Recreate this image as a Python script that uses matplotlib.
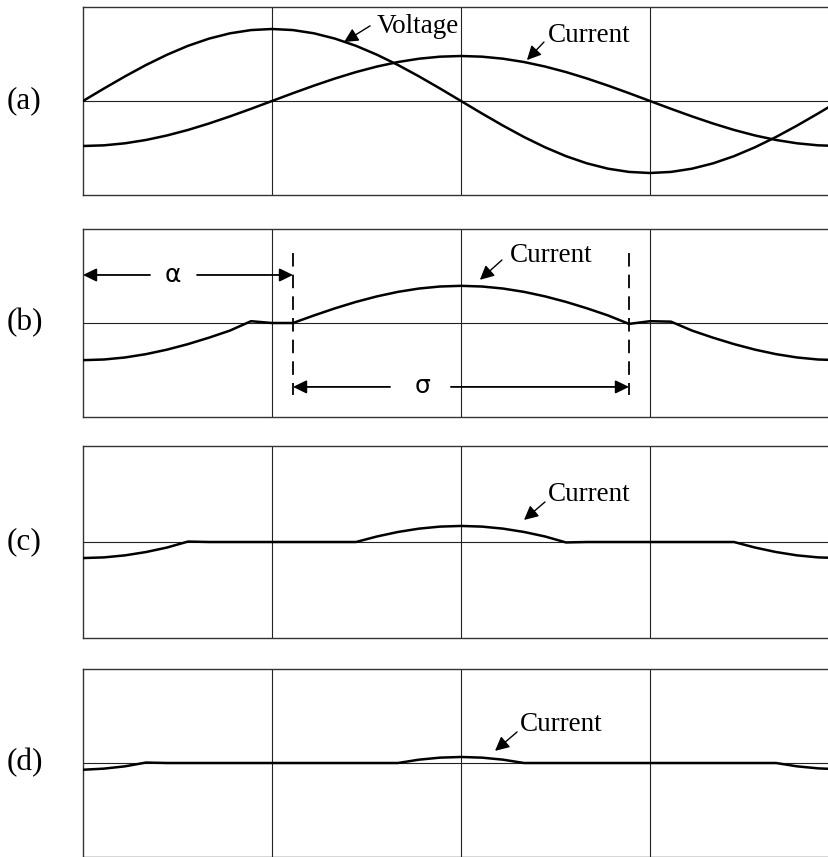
import numpy as np
import matplotlib.pyplot as plt

# angle in degrees, one point every 10 deg
theta = list(range(0, 361, 10))

voltage_a = [0.000, 0.278, 0.547, 0.800, 1.028, 1.226, 1.386, 1.504, 1.576, 1.600,
             1.576, 1.504, 1.386, 1.226, 1.028, 0.800, 0.547, 0.278, 0.000,
             -0.278, -0.547, -0.800, -1.028, -1.226, -1.386, -1.504, -1.576, -1.600,
             -1.576, -1.504, -1.386, -1.226, -1.028, -0.800, -0.547, -0.278, 0.000]
current_a = [-1.000, -0.985, -0.940, -0.866, -0.766, -0.643, -0.500, -0.342, -0.174, 0.000,
             0.174, 0.342, 0.500, 0.643, 0.766, 0.866, 0.940, 0.985, 1.000,
             0.985, 0.940, 0.866, 0.766, 0.643, 0.500, 0.342, 0.174, 0.000,
             -0.174, -0.342, -0.500, -0.643, -0.766, -0.866, -0.940, -0.985, -1.000]
current_b = [-0.826, -0.811, -0.766, -0.692, -0.592, -0.469, -0.326, -0.168, 0.040, 0.000,
             0.000, 0.168, 0.326, 0.469, 0.592, 0.692, 0.766, 0.811, 0.826,
             0.811, 0.766, 0.692, 0.592, 0.469, 0.326, 0.168, -0.020, 0.040,
             0.030, -0.168, -0.326, -0.469, -0.592, -0.692, -0.766, -0.811, -0.826]
current_c = [-0.357, -0.342, -0.297, -0.223, -0.123, 0.010, 0.000, 0.000, 0.000, 0.000,
             0.000, 0.000, 0.000, 0.000, 0.123, 0.223, 0.297, 0.342, 0.357,
             0.342, 0.297, 0.223, 0.123, -0.010, 0.000, 0.000, 0.000, 0.000,
             0.000, 0.000, 0.000, 0.000, -0.123, -0.223, -0.297, -0.342, -0.357]
current_d = [-0.150, -0.125, -0.074, 0.010, 0.000, 0.000, 0.000, 0.000, 0.000, 0.000,
             0.000, 0.000, 0.000, 0.000, 0.000, 0.000, 0.074, 0.119, 0.134,
             0.119, 0.074, 0.000, 0.000, 0.000, 0.000, 0.000, 0.000, 0.000,
             0.000, 0.000, 0.000, 0.000, 0.000, 0.000, -0.074, -0.119, -0.140]

panel_labels = ["(a)", "(b)", "(c)", "(d)"]
alpha_deg = 100
sigma_end = 260

W, H = 829, 857
serif = "Liberation Serif"

fig = plt.figure(figsize=(W / 100, H / 100), dpi=100)

# panel frames in pixels: (top, bottom)
frames = [(7, 195), (229, 417), (446, 638), (669, 857)]
left_px = 83
px_per_deg = 2.1
px_per_unit = 45.0

axes = []
for (top, bot), lab in zip(frames, panel_labels):
    ax = fig.add_axes([left_px / W, (H - bot) / H, (W - left_px) / W, (bot - top) / H])
    half = (bot - top) / 2 / px_per_unit
    ax.set_xlim(0, (W - left_px) / px_per_deg)
    ax.set_ylim(-half, half)
    ax.set_xticks([])
    ax.set_yticks([])
    ax.spines["right"].set_visible(False)
    for s in ["left", "top", "bottom"]:
        ax.spines[s].set_linewidth(1.0)
        ax.spines[s].set_color("#333333")
    for xv in [90, 180, 270]:
        ax.axvline(xv, color="#222222", lw=0.8, zorder=1)
    ax.axhline(0, color="#222222", lw=0.8, zorder=1)
    fig.text(24.5 / W, 1 - ((top + bot) / 2) / H, lab, family=serif,
             fontsize=22.5, ha="center", va="center")
    axes.append(ax)

ax_a, ax_b, ax_c, ax_d = axes

line_kw = dict(color="black", lw=1.8, zorder=3, solid_capstyle="round")
ax_a.plot(theta, voltage_a, **line_kw)
ax_a.plot(theta, current_a, **line_kw)
ax_b.plot(theta, current_b, **line_kw)
ax_c.plot(theta, current_c, **line_kw)
ax_d.plot(theta, current_d, **line_kw)

arrow_kw = dict(arrowstyle="-|>,head_length=0.5,head_width=0.25", color="black",
                lw=1.0, mutation_scale=17, shrinkA=0, shrinkB=0)
txt_kw = dict(family=serif, fontsize=19.5, ha="left", va="baseline")

# labels with pointer arrows: (axis, text, text pos, arrow tail, arrow head)
notes = [
    (ax_a, "Voltage", (140.0, 1.51), (136.7, 1.67), (124.3, 1.31)),
    (ax_a, "Current", (221.4, 1.31), (219.5, 1.31), (211.4, 0.91)),
    (ax_b, "Current", (203.3, 1.36), (199.5, 1.40), (189.0, 0.96)),
    (ax_c, "Current", (221.4, 0.91), (220.0, 0.89), (210.0, 0.49)),
    (ax_d, "Current", (208.1, 0.71), (206.7, 0.69), (196.2, 0.27)),
]
for ax, t, tp, tail, head in notes:
    ax.text(tp[0], tp[1], t, **txt_kw)
    ax.annotate("", xy=head, xytext=tail, arrowprops=arrow_kw)

# firing angle and conduction angle markers
for xv in [alpha_deg, sigma_end]:
    ax_b.plot([xv, xv], [1.56, -1.6], color="black", lw=1.3,
              dashes=(7.5, 4.5), zorder=2)

dim_kw = dict(arrowstyle="-|>,head_length=0.45,head_width=0.22", color="black",
              lw=1.3, mutation_scale=18, shrinkA=0, shrinkB=0)
y_al = 1.067
ax_b.annotate("", xy=(0, y_al), xytext=(31.9, y_al), arrowprops=dim_kw)
ax_b.annotate("", xy=(alpha_deg, y_al), xytext=(54.3, y_al), arrowprops=dim_kw)
ax_b.text(42.9, y_al, "\u03b1", family="DejaVu Sans", fontsize=18,
          ha="center", va="center")

y_sg = -1.42
ax_b.annotate("", xy=(alpha_deg, y_sg), xytext=(146.2, y_sg), arrowprops=dim_kw)
ax_b.annotate("", xy=(sigma_end, y_sg), xytext=(175.2, y_sg), arrowprops=dim_kw)
ax_b.text(161.9, y_sg + 0.03, "\u03c3", family="DejaVu Sans", fontsize=18,
          ha="center", va="center")

fig.savefig("out.png", dpi=100)
